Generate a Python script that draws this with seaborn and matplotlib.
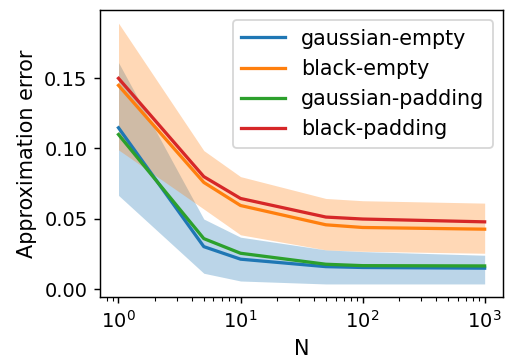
import numpy as np
import pandas as pd
import matplotlib
matplotlib.use("Agg")
import matplotlib.pyplot as plt
import seaborn as sns

# ------------------------------
# Data
# ------------------------------
N = [1, 5, 10, 50, 100, 1000]

gaussian_empty = [0.1147, 0.0303, 0.0214, 0.0161, 0.0155, 0.0150]
black_empty = [0.1448, 0.0759, 0.0595, 0.0458, 0.0439, 0.0427]
gaussian_padding = [0.1099, 0.0360, 0.0256, 0.0178, 0.0168, 0.0166]
black_padding = [0.1498, 0.0800, 0.0645, 0.0513, 0.0499, 0.0479]

# shaded bands (only for the "empty" runs)
gaussian_empty_lo = [0.0667, 0.0114, 0.0059, 0.0038, 0.0038, 0.0038]
gaussian_empty_hi = [0.1610, 0.0499, 0.0370, 0.0280, 0.0268, 0.0242]
black_empty_lo = [0.0990, 0.0570, 0.0387, 0.0280, 0.0270, 0.0256]
black_empty_hi = [0.1890, 0.0985, 0.0800, 0.0645, 0.0629, 0.0612]

labels = ["gaussian-empty", "black-empty", "gaussian-padding", "black-padding"]
series = [gaussian_empty, black_empty, gaussian_padding, black_padding]

df = pd.concat(
    [pd.DataFrame({"N": N, "error": vals, "method": lab})
     for lab, vals in zip(labels, series)],
    ignore_index=True,
)

# ------------------------------
# Plot
# ------------------------------
plt.rcParams["font.size"] = 11.5
plt.rcParams["xtick.labelsize"] = 10.8
plt.rcParams["ytick.labelsize"] = 10.8

colors = sns.color_palette("tab10", 4)

fig, ax = plt.subplots(figsize=(506 / 130, 360 / 130), dpi=130)

ax.fill_between(N, gaussian_empty_lo, gaussian_empty_hi,
                color=colors[0], alpha=0.3, linewidth=0, zorder=1)
ax.fill_between(N, black_empty_lo, black_empty_hi,
                color=colors[1], alpha=0.3, linewidth=0, zorder=1)

sns.lineplot(data=df, x="N", y="error", hue="method", hue_order=labels,
             palette=colors, linewidth=1.8, ax=ax, zorder=2)

ax.set_xscale("log")
ax.set_xlabel("N")
ax.set_ylabel("Approximation error")
ax.set_yticks([0.0, 0.05, 0.10, 0.15])
ax.legend(loc="upper right", fontsize=11.4, handlelength=2.1)

fig.subplots_adjust(left=0.198, right=0.994, top=0.972, bottom=0.175)
fig.savefig("out.png", dpi=130)
